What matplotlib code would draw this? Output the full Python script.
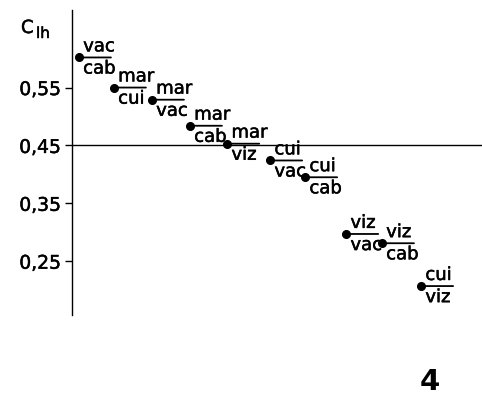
import matplotlib
matplotlib.use("Agg")
import matplotlib.pyplot as plt
import matplotlib.patheffects as pe

# pairs (numerator / denominator) and their C_lh values, in plotted order
numer = ["vac", "mar", "mar", "mar", "mar", "cui", "cui", "viz", "viz", "cui"]
denom = ["cab", "cui", "vac", "cab", "viz", "vac", "cab", "vac", "cab", "viz"]
c_lh = [0.602, 0.550, 0.529, 0.484, 0.453, 0.424, 0.395, 0.297, 0.281, 0.207]
xpos = [0, 0.92, 1.92, 2.92, 3.9, 5.03, 5.95, 7.03, 7.97, 9.0]

yticks = [0.55, 0.45, 0.35, 0.25]
ytick_labels = ["0,55", "0,45", "0,35", "0,25"]

plt.rcParams['font.family'] = ['DejaVu Sans']
thick = [pe.withStroke(linewidth=0.35, foreground='black')]

fig = plt.figure(figsize=(4.82, 3.95), dpi=100)
ax = fig.add_axes([72 / 482, 80 / 395, 410 / 482, 305 / 395])

ax.plot(xpos, c_lh, 'o', color='black', ms=5.5, zorder=3)
ax.axhline(0.45, color='black', lw=1.0)

for x, y, n, d in zip(xpos, c_lh, numer, denom):
    ax.annotate('', xy=(x, y), xytext=(23, 0), textcoords='offset points',
                arrowprops=dict(arrowstyle='-', lw=1.3, color='black',
                                shrinkA=0, shrinkB=0))
    ax.annotate(n, xy=(x, y), xytext=(3, 1.5), textcoords='offset points',
                ha='left', va='bottom', fontsize=13, path_effects=thick)
    ax.annotate(d, xy=(x, y), xytext=(3, -1.5), textcoords='offset points',
                ha='left', va='top', fontsize=13, path_effects=thick)

ax.set_xlim(-0.184, 10.6)
ax.set_ylim(0.157, 0.684)
ax.set_yticks(yticks)
ax.set_yticklabels(ytick_labels, fontsize=13.5)
for lab in ax.get_yticklabels():
    lab.set_path_effects(thick)
ax.set_xticks([])
for s in ['top', 'right', 'bottom']:
    ax.spines[s].set_visible(False)
ax.spines['left'].set_linewidth(1.0)
ax.tick_params(axis='y', length=5, width=1.0, pad=3)

fig.text(21 / 482, 1 - 33 / 395, 'C', fontsize=13,
         ha='left', va='baseline', path_effects=thick)
fig.text(36 / 482, 1 - 38 / 395, 'lh', fontsize=11,
         ha='left', va='baseline', path_effects=thick)
fig.text(430 / 482, 1 - 390 / 395, '4', fontsize=21, fontweight='bold',
         ha='center', va='baseline')

fig.savefig('out.png', dpi=100)
